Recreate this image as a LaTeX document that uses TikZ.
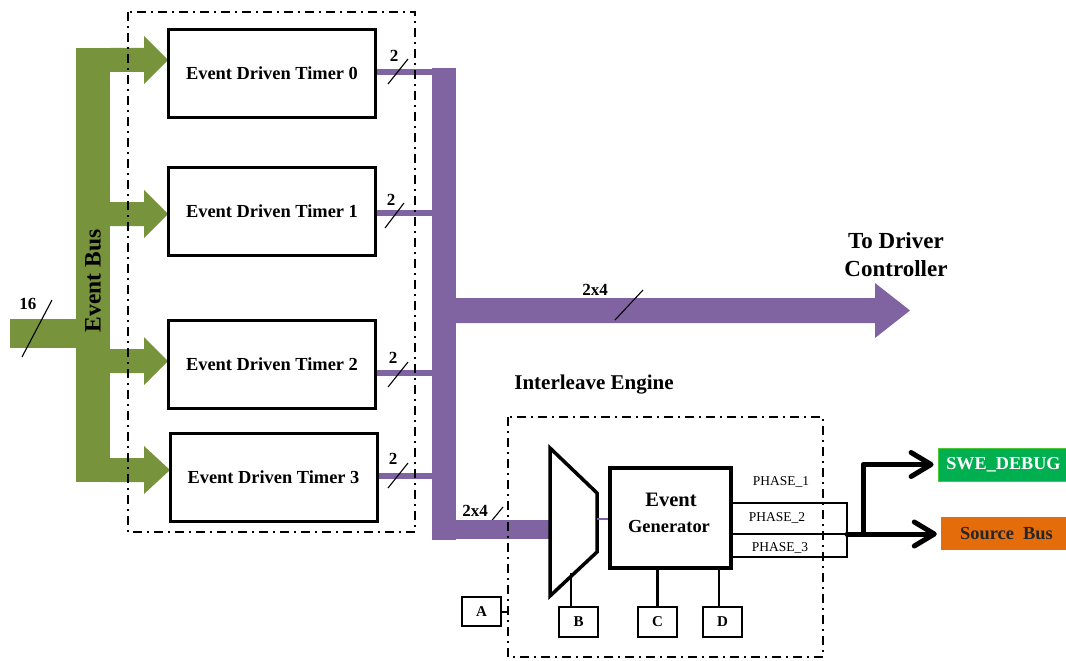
\documentclass[tikz,border=0pt]{standalone}
\usepackage{fontspec}
\setmainfont{Liberation Serif}
\usetikzlibrary{arrows.meta,calc}
\definecolor{busgreen}{HTML}{77933C}
\definecolor{buspurple}{HTML}{8064A2}
\definecolor{debuggreen}{HTML}{00B050}
\definecolor{srcorange}{HTML}{E46C0A}
\newcommand{\txtsize}[1]{\fontsize{#1}{#1}\selectfont\bfseries}
% green bus branch ending in a wide arrow head: centre y, tip x
\newcommand{\greenarrow}[2]{%
  \fill[busgreen] (110,#1-12) -- (144,#1-12) -- (144,#1-24) -- (#2,#1)
    -- (144,#1+24) -- (144,#1+12) -- (110,#1+12) -- cycle;}
\begin{document}
\begin{tikzpicture}[x=1pt,y=-1pt,
  timerbox/.style={draw,line width=3pt,minimum width=207pt,minimum height=88pt,inner sep=0pt,
    font=\txtsize{18.4}},
  smallbox/.style={draw,line width=2.2pt,minimum width=39pt,minimum height=30pt,inner sep=0pt,
    font=\txtsize{15}},
  groupbox/.style={draw,line width=2.2pt,dash pattern=on 9pt off 5pt on 2pt off 5pt},
  purpleline/.style={buspurple,line width=6pt},
  slash/.style={line width=1.1pt},
  lbl/.style={inner sep=0pt,font=\txtsize{17}},
  phase/.style={inner sep=0pt,font=\fontsize{13.5}{13.5}\selectfont},
  thinline/.style={line width=1.6pt},
  outarrow/.style={line width=5pt,line cap=round,line join=round,
    -{Straight Barb[length=20pt 0,width=24pt 0,round]}},
]
\useasboundingbox (0,0) rectangle (1066,661);

% ---------------- event bus ----------------
\fill[busgreen] (76,48) rectangle (110,482);
\fill[busgreen] (10,319) rectangle (76,348);
\greenarrow{60}{168}
\greenarrow{214}{168}
\greenarrow{361}{168}
\greenarrow{470}{170}
\node[rotate=90,inner sep=0pt,font=\txtsize{23.5}] (busname) at (93,281) {Event Bus};
\draw[slash] (22,357) -- (52,300);
\node[lbl] (w16) at (28,304) {16};

% ---------------- timers ----------------
\node[timerbox] (t0) at (272,73.5) {Event Driven Timer 0};
\node[timerbox] (t1) at (272,211.5) {Event Driven Timer 1};
\node[timerbox] (t2) at (272,364) {Event Driven Timer 2};
\node[timerbox] (t3) at (273.5,477.5) {Event Driven Timer 3};

% ---------------- purple output bus ----------------
\draw[slash] (489,524) -- (503,507);
\node[fill=buspurple,minimum width=24pt,minimum height=472pt,inner sep=0pt] (bar) at (444,304) {};
\fill[buspurple] (432,520) rectangle (551,539);
\draw[purpleline] ([yshift=1.5pt]t0.east) -- ([yshift=1.5pt]t0.east -| bar.west);
\draw[purpleline] ([yshift=-1.5pt]t1.east) -- ([yshift=-1.5pt]t1.east -| bar.west);
\draw[purpleline] ([yshift=-9pt]t2.east) -- ([yshift=-9pt]t2.east -| bar.west);
\draw[purpleline] ([yshift=1.5pt]t3.east) -- ([yshift=1.5pt]t3.east -| bar.west);
\fill[buspurple] (456,298) -- (875,298) -- (875,283) -- (910,310.5) -- (875,338)
  -- (875,323) -- (456,323) -- cycle;

% width marks
\draw[slash] (388,84) -- (408,59);   \node[lbl] at (394,56) {2};
\draw[slash] (385,228) -- (404,203); \node[lbl] at (391,200) {2};
\draw[slash] (388,387) -- (408,362); \node[lbl] at (393,358) {2};
\draw[slash] (388,488) -- (408,463); \node[lbl] at (393,459) {2};
\draw[slash] (615,320) -- (643,290); \node[lbl] at (595,290) {2x4};
\node[lbl] at (475,511) {2x4};

\node[align=center,inner sep=0pt,font=\fontsize{23}{28}\selectfont\bfseries] (drv) at (896,255)
  {To Driver\\Controller};

% ---------------- interleave engine ----------------
\node[inner sep=0pt,font=\txtsize{21}] (ilname) at (594,385) {Interleave Engine};
\coordinate (m1) at (550,448);
\coordinate (m2) at (597,493);
\coordinate (m3) at (597,552);
\coordinate (m4) at (550,596);
\draw[line width=3.5pt,line join=miter] (m1) -- (m2) -- (m3) -- (m4) -- cycle;
\node[draw,line width=3.5pt,minimum width=121pt,minimum height=100pt,inner sep=0pt] (gen) at (670.5,518) {};
\node[inner sep=0pt,font=\txtsize{20.5}] (gentop) at (671,500) {Event};
\node[inner sep=0pt,font=\txtsize{18.4}] (genbot) at (669,526) {Generator};
\draw[buspurple,line width=2pt] (597,519) -- (gen.west |- 0,519);

\node[smallbox] (B) at (578.5,622) {B};
\node[smallbox] (C) at (657.5,622) {C};
\node[smallbox] (D) at (722.5,622) {D};
\node[smallbox,minimum height=29pt] (A) at (481.5,611.5) {A};
\coordinate (mb) at (571,573);
\draw[line width=2.2pt] (mb) -- (mb |- B.north);
\draw[line width=2.2pt] (C.north) -- (C.north |- gen.south);
\draw[line width=2.2pt] ([xshift=-3.5pt]D.north) -- ([xshift=-3.5pt]D.north |- gen.south);
\coordinate (ain) at (508,612);
\draw[line width=2.2pt] (A.east |- ain) -- (ain);

% phase outputs
\coordinate (pr) at (847,534);
\draw[thinline] (gen.east |- 0,503) -- (847,503) -- (847,557) -- (gen.east |- 0,557);
\draw[line width=2.6pt] (gen.east |- pr) -- (pr);
\node[phase] (p1) at (781,482) {PHASE\_1};
\node[phase] (p2) at (777,518) {PHASE\_2};
\node[phase] (p3) at (780,548) {PHASE\_3};

% destinations
\node[fill=debuggreen,draw=debuggreen!70!yellow,line width=0.8pt,minimum width=137pt,minimum height=33pt,
  inner sep=0pt,text=white,font=\txtsize{18.2}] (swe) at (1006.5,464.5) {\hspace*{-3pt}SWE\_DEBUG\hspace*{3pt}};
\node[fill=srcorange,minimum width=131pt,minimum height=33pt,inner sep=0pt,
  text=black!85,font=\txtsize{18.4}] (src) at (1006.5,533.5) {Source\ \ Bus};
\coordinate (split) at (863,534);
\draw[outarrow] (pr) -- ([xshift=-4pt]src.west |- pr);
\draw[outarrow] (split) |- ([xshift=-4pt]swe.west);

% ---------------- group frames ----------------
\draw[groupbox] (128,12) rectangle (415,532);
\draw[groupbox] (508,417) rectangle (823,657);
\end{tikzpicture}
\end{document}
